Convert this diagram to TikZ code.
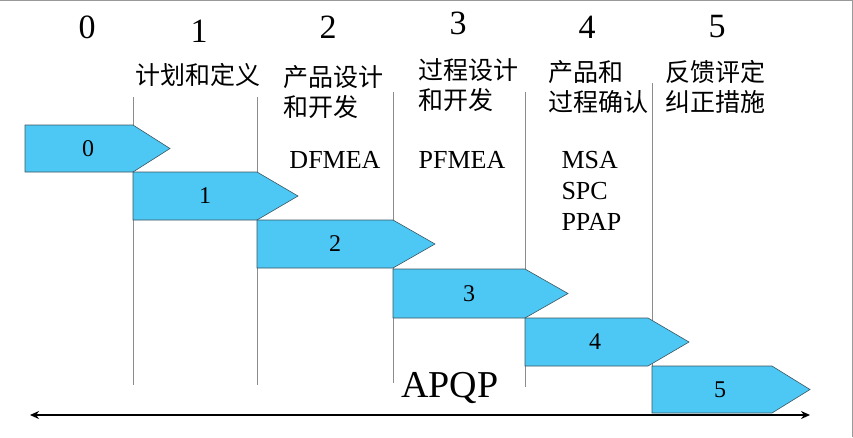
\documentclass[tikz,border=0pt]{standalone}
\usepackage{fontspec}
\setmainfont{Liberation Serif}
\newfontfamily\cjk{Noto Sans CJK SC}
\usepackage{tikz}
\usetikzlibrary{positioning, calc, arrows.meta}

\definecolor{stepblue}{RGB}{77,200,245}
\definecolor{stepedge}{RGB}{60,85,95}

\begin{document}
\begin{tikzpicture}[x=1pt, y=-1pt,
    phase/.style={font=\fontsize{34}{36}\selectfont},
    stage/.style={font=\cjk\fontsize{25}{30}\selectfont, align=left, anchor=west, inner sep=0pt},
    tool/.style={font=\fontsize{26}{30}\selectfont},
    steplabel/.style={font=\fontsize{24}{26}\selectfont},
    divider/.style={draw=black!45, line width=0.9pt},
    stepbox/.style={fill=stepblue, draw=stepedge, line width=0.6pt}]

    \useasboundingbox (0, 0) rectangle (853, 437);

    % Frame edges
    \draw[black!40, line width=1pt] (0, 0.5) -- (852, 0.5) -- (852, 437);

    % Phase dividers
    \foreach \x/\ytop/\ybot in {133/97/385, 257/97/385, 393/92/383, 525/92/387, 652/83/366}{
        \coordinate (top\x) at (\x, \ytop);
        \coordinate (bot\x) at (\x, \ybot);
        \draw[divider] (top\x) -- (bot\x);
    }

    % Phase numbers
    \node[phase] (n0) at (87, 27) {0};
    \node[phase] (n1) at (199, 31) {1};
    \node[phase] (n2) at (328, 27) {2};
    \node[phase] (n3) at (458, 23) {3};
    \node[phase] (n4) at (587, 27) {4};
    \node[phase] (n5) at (717, 27) {5};

    % Stage names
    \node[stage, anchor=center] (s1) at (198, 75) {计划和定义};
    \node[stage] (s2) at (283, 92) {产品设计\\和开发};
    \node[stage] (s3) at (418, 85) {过程设计\\和开发};
    \node[stage] (s4) at (548, 87) {产品和\\过程确认};
    \node[stage] (s5) at (665, 87) {反馈评定\\纠正措施};

    % Tools per stage
    \node[tool] (dfmea) at (335, 160) {DFMEA};
    \node[tool] (pfmea) at (462, 160) {PFMEA};
    \node[tool, anchor=west] (msa) at (558, 160) {MSA};
    \node[tool, anchor=west] (spc) at (558, 191) {SPC};
    \node[tool, anchor=west] (ppap) at (558, 222) {PPAP};

    % Step arrows
    \foreach \i/\xa/\xb/\xc/\ya/\yb/\lx in {0/25/133/170/125/172/88,
        1/133/257/298/172/220/205, 2/257/393/435/220/268/335,
        3/393/525/568/269/318/469, 4/525/648/689/318/366/595,
        5/652/772/810/366/413/720}{
        \draw[stepbox] (\xa, \ya) -- (\xb, \ya) -- (\xc, {(\ya+\yb)/2})
            -- (\xb, \yb) -- (\xa, \yb) -- cycle;
        \node[steplabel] (a\i) at (\lx, {(\ya+\yb)/2}) {\i};
    }

    % Timeline
    \node[font=\fontsize{38}{40}\selectfont] (apqp) at (450, 388) {APQP};
    \coordinate (tstart) at (30, 415);
    \coordinate (tend) at (810, 415);
    \draw[{Stealth[length=9pt, width=8pt]}-{Stealth[length=9pt, width=8pt]}, line width=2.2pt] (tstart) -- (tend);

\end{tikzpicture}
\end{document}
